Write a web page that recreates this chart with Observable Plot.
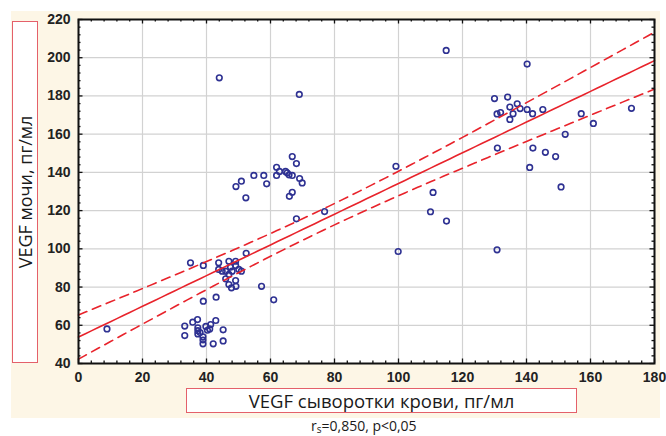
<!DOCTYPE html>
<html><head><meta charset="utf-8">
<script src="https://cdn.jsdelivr.net/npm/d3@7"></script>
<script src="https://cdn.jsdelivr.net/npm/@observablehq/plot@0.6"></script>
<style>
body{margin:0;background:#fff;width:666px;height:436px;position:relative;overflow:hidden;font-family:"Open Sans",sans-serif;color:#1a1a1a}
#bg{position:absolute;left:11px;top:11px;width:649px;height:407px;background:#fdf6e6}
#chart{position:absolute;left:0;top:0}
#ylab{position:absolute;left:12px;top:21px;width:24px;height:340px;border:1.5px solid #e4606a;background:#fff}
#ylab span{position:absolute;left:50%;top:50%;transform:translate(-50%,-50%) rotate(-90deg);white-space:nowrap;font-size:18px}
#xlab{position:absolute;left:186px;top:388px;width:389px;height:23px;border:1.5px solid #e4606a;background:#fff;text-align:center;font-size:18.5px;line-height:23px}
#cap{position:absolute;left:311px;top:418px;font-size:14px;line-height:15px;white-space:nowrap}
#cap sub{font-size:10px;vertical-align:-2px;line-height:0}
</style></head>
<body>
<div id="bg"></div>
<div id="chart"></div>
<div id="ylab"><span>VEGF мочи, пг/мл</span></div>
<div id="xlab">VEGF сыворотки крови, пг/мл</div>
<div id="cap">r<sub>s</sub>=0,850, p&lt;0,05</div>
<script>
// VEGF serum (x) and urine (y), pg/ml
const serum = [
  8.9,33.2,33.2,35.7,37.2,37.3,37.3,37.3,38.0,38.9,38.9,38.9,39.8,40.3,41.3,41.0,42.9,45.2,45.2,42.1,
  35.0,39.0,43.8,43.8,44.9,47.0,49.1,52.4,49.1,47.5,50.1,50.9,46.0,47.0,48.0,46.0,49.1,47.0,47.8,49.2,57.2,61.0,39.0,43.0,
  66.8,68.1,61.9,62.8,64.7,65.2,65.8,66.8,61.9,54.8,57.9,58.8,50.9,49.2,52.3,69.1,69.9,66.8,65.9,
  44.0,69.0,68.1,76.9,
  114.9,140.2,130.0,134.1,137.1,134.8,138.0,140.2,141.9,145.1,130.8,131.9,135.8,134.8,157.1,172.8,160.9,152.1,
  130.9,142.0,145.9,149.1,141.0,150.8,
  99.2,110.8,110.0,115.0,99.9,130.8
];
const urine = [
  58.1,59.6,54.6,61.6,63.0,58.7,57.2,55.5,56.2,54.0,52.3,50.3,59.4,57.4,60.4,58.1,62.5,57.6,51.8,50.3,
  92.7,91.3,92.7,89.2,88.3,93.5,93.5,97.7,91.3,90.4,89.2,88.3,88.3,86.6,88.3,84.3,83.4,81.3,79.6,80.4,80.4,73.3,72.6,74.7,
  148.3,144.6,142.7,140.5,140.5,139.8,138.7,138.4,138.4,138.4,138.4,134.0,135.4,132.6,126.7,136.8,134.5,129.6,127.5,
  189.5,180.8,115.7,119.5,
  203.8,196.7,178.6,179.4,175.9,174.2,173.4,172.9,170.7,172.9,170.6,171.3,170.7,167.7,170.7,173.5,165.6,159.9,
  152.7,152.7,150.5,148.3,142.6,132.4,
  143.2,129.5,119.4,114.5,98.6,99.5
];
const xTicks = [0,20,40,60,80,100,120,140,160,180];
const yTicks = [40,60,80,100,120,140,160,180,200,220];
const xMinor = d3.range(0, 181, 4);
const yMinor = d3.range(40, 221, 4);

const points = serum.map((x, i) => ({x, y: urine[i]}));

// Linear regression with 95% confidence band for the mean, computed from the data
const n = points.length;
const xbar = d3.mean(serum), ybar = d3.mean(urine);
const Sxx = d3.sum(serum, x => (x - xbar) ** 2);
const Sxy = d3.sum(points, p => (p.x - xbar) * (p.y - ybar));
const slope = Sxy / Sxx, intercept = ybar - slope * xbar;
const s = Math.sqrt(d3.sum(points, p => (p.y - intercept - slope * p.x) ** 2) / (n - 2));
const t = 1.985;
const fit = d3.range(0, 180.5, 2).map(x => {
  const yh = intercept + slope * x;
  const h = t * s * Math.sqrt(1 / n + (x - xbar) ** 2 / Sxx);
  return {x, y: yh, lo: yh - h, hi: yh + h};
});

const red = "#e8232b";
const kx = 180 / 576, ky = 180 / 344; // data units per pixel
const chart = Plot.plot({
  width: 666, height: 400,
  marginLeft: 78, marginRight: 12, marginTop: 19, marginBottom: 37,
  style: {background: "transparent", fontFamily: "'Liberation Sans', Arial, sans-serif", fontSize: "14px"},
  x: {domain: [0, 180]},
  y: {domain: [40, 220]},
  marks: [
    Plot.frame({fill: "white"}),
    Plot.gridX(xTicks, {stroke: "#d2d2d2", strokeOpacity: 1, strokeWidth: 1.2}),
    Plot.gridY(yTicks, {stroke: "#d2d2d2", strokeOpacity: 1, strokeWidth: 1.2}),
    Plot.dot(points, {x: "x", y: "y", r: 2.8, stroke: "#2e3192", strokeWidth: 1.6}),
    Plot.line(fit, {x: "x", y: "hi", stroke: red, strokeWidth: 1.6, strokeDasharray: "9,6"}),
    Plot.line(fit, {x: "x", y: "lo", stroke: red, strokeWidth: 1.6, strokeDasharray: "9,6"}),
    Plot.line(fit, {x: "x", y: "y", stroke: red, strokeWidth: 1.6}),
    // inward tick marks on all four sides
    Plot.ruleX(xMinor, {x: d => d, y1: 40, y2: d => 40 + (d % 20 === 0 ? 4.5 : 2.5) * ky, stroke: "#111", strokeWidth: 1.3}),
    Plot.ruleX(xMinor, {x: d => d, y1: 220, y2: d => 220 - (d % 20 === 0 ? 4.5 : 2.5) * ky, stroke: "#111", strokeWidth: 1.3}),
    Plot.ruleY(yMinor, {y: d => d, x1: 0, x2: d => (d % 20 === 0 ? 4.5 : 2.5) * kx, stroke: "#111", strokeWidth: 1.3}),
    Plot.ruleY(yMinor, {y: d => d, x1: 180, x2: d => 180 - (d % 20 === 0 ? 4.5 : 2.5) * kx, stroke: "#111", strokeWidth: 1.3}),
    Plot.frame({stroke: "#111", strokeWidth: 2}),
    Plot.axisX(xTicks, {tickSize: 0, tickPadding: 9, label: null, fontWeight: "bold", fill: "#222"}),
    Plot.axisY(yTicks, {tickSize: 0, tickPadding: 8, label: null, fontWeight: "bold", fill: "#222"})
  ]
});
document.getElementById("chart").appendChild(chart);
</script>
</body></html>
